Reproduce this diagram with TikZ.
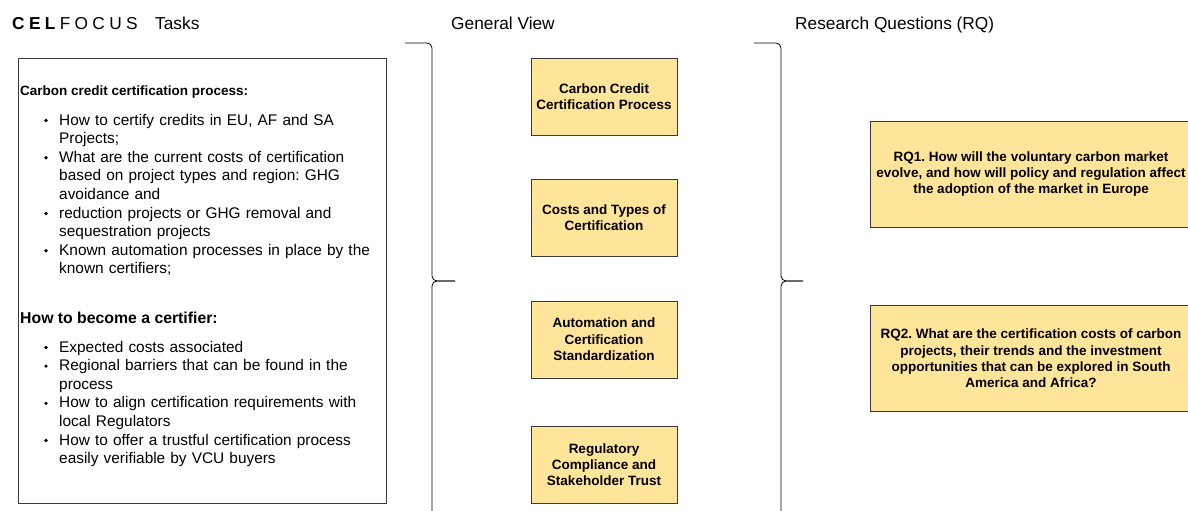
\documentclass[tikz,border=0pt]{standalone}
\usepackage{fontspec}
\setmainfont{Liberation Sans}
\newfontfamily\brandfont[LetterSpace=25]{Liberation Sans}
\usetikzlibrary{positioning}
\definecolor{viewfill}{HTML}{FFE599}
\definecolor{framegray}{HTML}{3A3A3A}
\frenchspacing

\begin{document}
\begin{tikzpicture}[
        x=1pt, y=-1pt, % pixel-like coordinates, y downwards
        title/.style={anchor=base west, inner sep=0pt, font=\fontsize{17.3}{20}\selectfont},
        head/.style={anchor=base west, inner sep=0pt, font=\bfseries\fontsize{13.5}{16}\selectfont},
        item/.style={anchor=base west, inner sep=0pt, text width=320pt, align=left,
                font=\fontsize{15.4}{18.6}\selectfont},
        view/.style={draw=framegray, fill=viewfill, minimum width=146pt, minimum height=77pt,
                align=center, inner sep=2pt, font=\bfseries\fontsize{13.5}{16.4}\selectfont}, % yellow boxes
        rq/.style={view, minimum width=322pt, minimum height=106pt},
        brace/.style={draw=black, line width=0.8pt, rounded corners=5pt},
        dot/.style={fill=black},
    ]
    \useasboundingbox (0,0) rectangle (1188,511);

    % column titles
    \node[title] (brand) at (12,30) {\brandfont\textbf{CEL}FOCUS};
    \node[title] (tasks) at (155,30) {Tasks};
    \node[title] (general) at (451,30) {General View};
    \node[title] (research) at (795,30) {Research Questions (RQ)};

    % tasks box
    \draw[framegray, line width=0.8pt] (18,58) rectangle (386,503);
    \node[head] (proc) at (20,95) {Carbon credit certification process:};
    \node[item] (it1) at (59,125) {How to certify credits in EU, AF and SA\\Projects;};
    \node[item] (it2) at (59,162.2) {What are the current costs of certification\\based on project types and region: GHG\\avoidance and};
    \node[item] (it3) at (59,218) {reduction projects or GHG removal and\\sequestration projects};
    \node[item] (it4) at (59,255.2) {Known automation processes in place by the\\known certifiers;};
    \node[head, font=\bfseries\fontsize{15.8}{18}\selectfont] (become) at (20,323) {How to become a certifier:};
    \node[item] (it5) at (59,352) {Expected costs associated};
    \node[item] (it6) at (59,370.6) {Regional barriers that can be found in the\\process};
    \node[item] (it7) at (59,407.8) {How to align certification requirements with\\local Regulators};
    \node[item] (it8) at (59,445) {How to offer a trustful certification process\\easily verifiable by VCU buyers};
    \foreach \n in {it1,it2,it3,it4,it5,it6,it7,it8}
        \fill[dot] (\n.base west) ++(-13,-4.5) circle (1.8pt);

    % general view
    \node[view] (ccp) at (604,96.5) {Carbon Credit\\Certification Process};
    \node[view, below=44pt of ccp] (cost) {Costs and Types of\\Certification};
    \node[view, below=44pt of cost] (auto) {Automation and\\Certification\\Standardization};
    \node[view, below=48pt of auto] (trust) {Regulatory\\Compliance and\\Stakeholder Trust};

    % research questions
    \node[rq] (rq1) at (1031,174) {RQ1. How will the voluntary carbon market\\evolve, and how will policy and regulation affect\\the adoption of the market in Europe};
    \node[rq, below=78pt of rq1] (rq2) {RQ2. What are the certification costs of carbon\\projects, their trends and the investment\\opportunities that can be explored in South\\America and Africa?};

    % braces
    \coordinate (ltip) at (455,281);
    \coordinate (rtip) at (803,281);
    \draw[brace] (405,43) -- (432,43) -- (432,281) -- (ltip);
    \draw[brace] (ltip) -- (432,281) -- (432,530);
    \draw[brace] (754,43) -- (781,43) -- (781,281) -- (rtip);
    \draw[brace] (rtip) -- (781,281) -- (781,530);
\end{tikzpicture}
\end{document}
